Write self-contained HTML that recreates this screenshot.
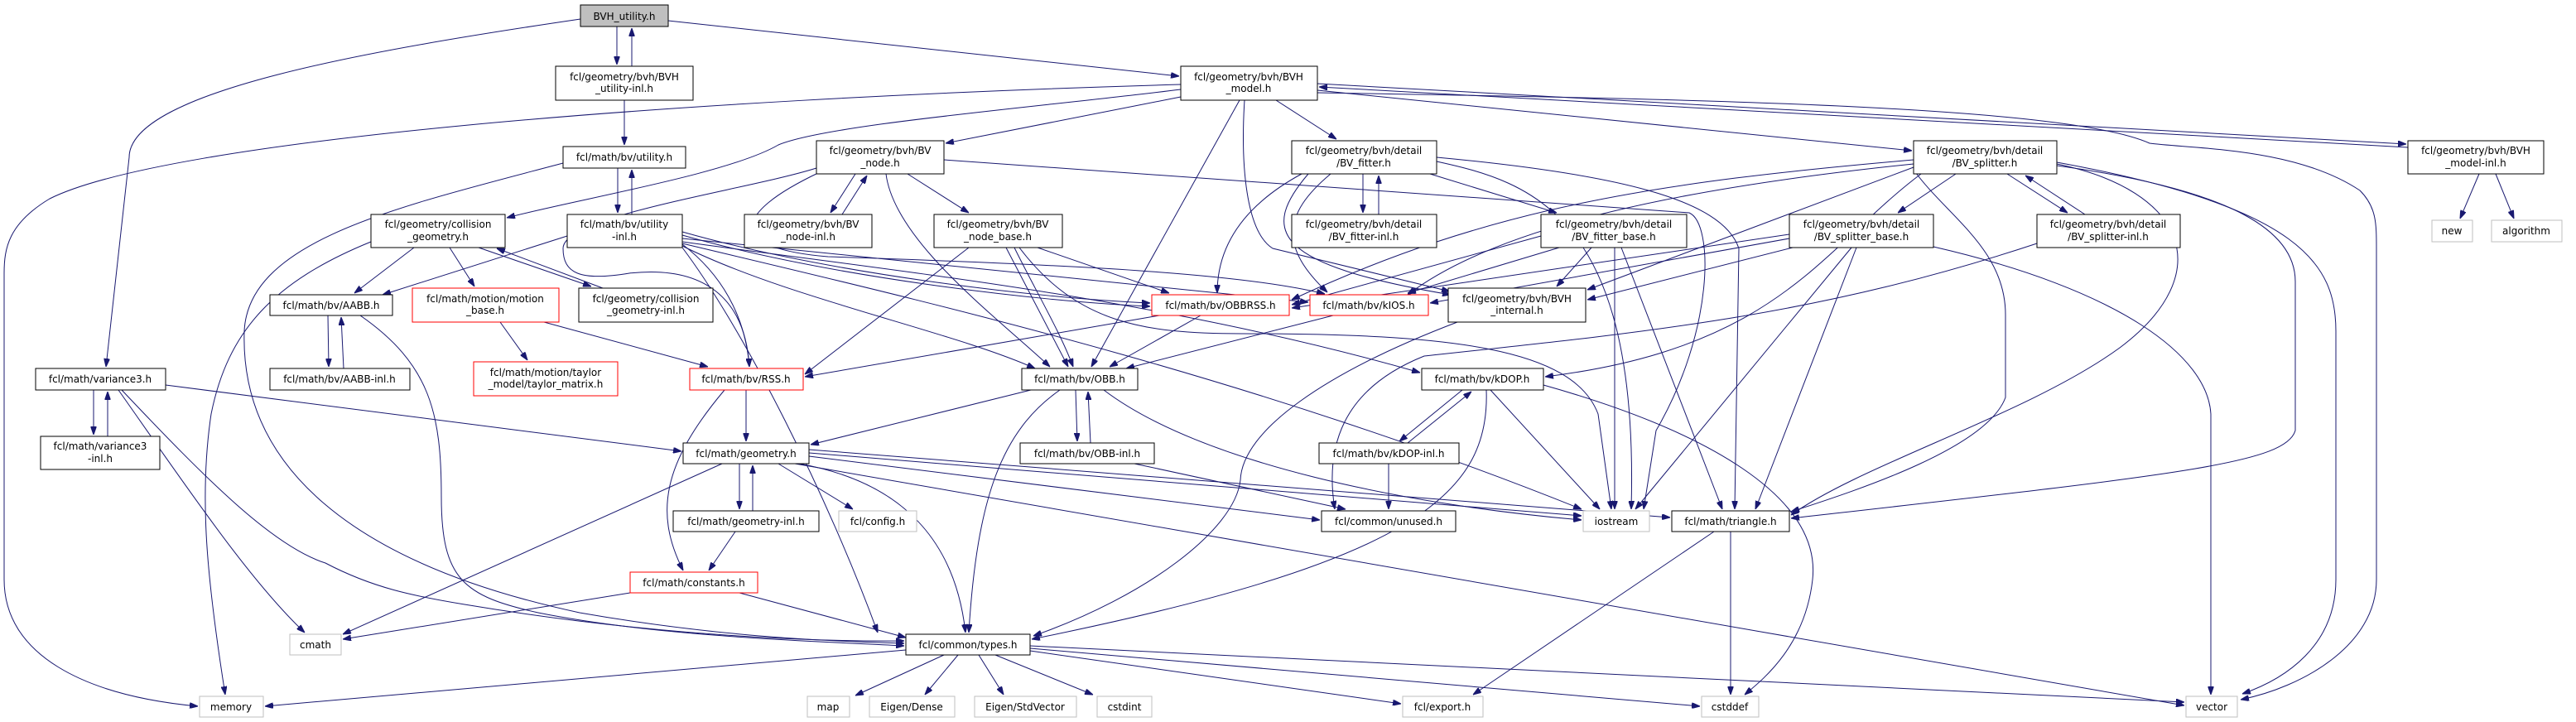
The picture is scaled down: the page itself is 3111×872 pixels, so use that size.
<!DOCTYPE html>
<html><head><meta charset="utf-8"><style>
html,body{margin:0;padding:0;background:#fff;}
svg{display:block;}
text{font-family:"DejaVu Sans","Liberation Sans",sans-serif;font-size:12px;fill:#000;text-anchor:middle;}
.e{fill:none;stroke:#191970;stroke-width:1;marker-end:url(#a);}
.n{fill:#fff;stroke:#000;stroke-width:1;}
.r{fill:#fff;stroke:#ff0000;stroke-width:1;}
.g{fill:#fff;stroke:#bfbfbf;stroke-width:1;}
</style></head><body>
<svg width="3111" height="872" viewBox="0 0 3111 872" xmlns="http://www.w3.org/2000/svg">
<defs><marker id="a" markerWidth="10" markerHeight="7" refX="10" refY="3.5" orient="auto" markerUnits="userSpaceOnUse"><path d="M0,0 L10,3.5 L0,7 z" fill="#191970" stroke="#191970"/></marker></defs>
<g>
<path class="e" d="M745,32 L745,78"/>
<path class="e" d="M763,80 L763,34"/>
<path class="e" d="M807,25 L1424,92"/>
<path class="e" d="M701,23 C450,60 156,110 156,190 L128,443"/>
<path class="e" d="M754,121 L754,175"/>
<path class="e" d="M746,203 L746,257"/>
<path class="e" d="M763,259 L763,205"/>
<path class="e" d="M680,197 C480,250 300,290 295,400 C290,560 420,680 700,740 C900,775 1050,775 1092,777"/>
<path class="e" d="M1426,102 C800,120 200,170 60,240 C10,270 5,300 5,330 L5,700 C5,790 100,840 239,853"/>
<path class="e" d="M1426,108 C1250,130 1000,150 940,175 C880,210 700,240 612,263"/>
<path class="e" d="M1426,117 L1142,173"/>
<path class="e" d="M1497,121 L1318,443"/>
<path class="e" d="M1503,121 C1498,200 1505,280 1537,300 L1751,352"/>
<path class="e" d="M1541,121 L1614,168"/>
<path class="e" d="M1591,109 L2309,182"/>
<path class="e" d="M1591,101 L2906,174"/>
<path class="e" d="M2908,178 L1593,105"/>
<path class="e" d="M1591,112 C2100,120 2500,130 2596,173 C2650,180 2772,178 2850,230 C2870,250 2870,270 2870,300 L2870,700 C2870,780 2780,830 2706,845"/>
<path class="e" d="M1033,210 L1003,257"/>
<path class="e" d="M1017,259 L1047,212"/>
<path class="e" d="M1096,210 L1170,257"/>
<path class="e" d="M1070,210 C1080,290 1200,380 1268,443"/>
<path class="e" d="M986,203 C900,230 680,260 680,300 C680,330 700,340 760,330 C850,320 900,360 905,443"/>
<path class="e" d="M990,208 C880,260 880,300 1000,310 C1300,320 1500,330 1600,355"/>
<path class="e" d="M1140,193 L2040,257 C2070,270 2070,400 2000,520 L1985,615"/>
<path class="e" d="M685,285 L462,356"/>
<path class="e" d="M824,280 C1000,330 1250,360 1389,366"/>
<path class="e" d="M824,284 C1000,334 1250,364 1389,370"/>
<path class="e" d="M824,295 C870,330 900,380 905,443"/>
<path class="e" d="M824,297 C950,360 1150,400 1250,445"/>
<path class="e" d="M824,288 L1580,365"/>
<path class="e" d="M824,292 C1100,330 1400,360 1715,450"/>
<path class="e" d="M824,294 C1100,360 1500,450 1910,615"/>
<path class="e" d="M824,299 C900,400 1000,600 1060,764"/>
<path class="e" d="M500,299 L428,354"/>
<path class="e" d="M543,299 L573,346"/>
<path class="e" d="M578,299 L714,346"/>
<path class="e" d="M728,348 L600,300"/>
<path class="e" d="M448,292 C330,340 275,400 255,500 C240,600 250,700 272,839"/>
<path class="e" d="M396,381 L397,443"/>
<path class="e" d="M415,445 L412,383"/>
<path class="e" d="M435,381 C520,440 533,500 533,600 C533,700 560,720 650,740 C800,770 1000,775 1092,780"/>
<path class="e" d="M604,389 L637,435"/>
<path class="e" d="M657,389 L855,443"/>
<path class="e" d="M113,471 L113,525"/>
<path class="e" d="M130,527 L130,473"/>
<path class="e" d="M200,465 L823,545"/>
<path class="e" d="M143,471 C220,580 300,700 368,764"/>
<path class="e" d="M147,471 C250,580 330,660 393,680 C450,710 500,720 561,730 C800,770 1000,775 1092,774"/>
<path class="e" d="M901,471 L901,533"/>
<path class="e" d="M875,471 C800,560 790,620 825,689"/>
<path class="e" d="M893,560 L893,615"/>
<path class="e" d="M909,617 L909,562"/>
<path class="e" d="M940,560 L1030,615"/>
<path class="e" d="M872,560 L414,766"/>
<path class="e" d="M965,560 C1050,575 1150,620 1166,764"/>
<path class="e" d="M977,543 L2017,625"/>
<path class="e" d="M977,547 L1910,623"/>
<path class="e" d="M977,551 L1594,628"/>
<path class="e" d="M960,560 L2638,852"/>
<path class="e" d="M888,642 L856,689"/>
<path class="e" d="M761,716 L414,772"/>
<path class="e" d="M893,716 L1094,770"/>
<path class="e" d="M1245,471 L979,537"/>
<path class="e" d="M1299,471 L1301,533"/>
<path class="e" d="M1317,535 L1314,473"/>
<path class="e" d="M1280,471 C1210,520 1180,600 1170,764"/>
<path class="e" d="M1333,471 C1450,560 1700,610 1910,628"/>
<path class="e" d="M1370,560 L1625,615"/>
<path class="e" d="M1766,471 L1690,533"/>
<path class="e" d="M1700,535 L1777,473"/>
<path class="e" d="M1800,471 L1932,615"/>
<path class="e" d="M1795,471 C1800,600 1700,680 1246,772"/>
<path class="e" d="M1864,465 C2060,520 2200,600 2189,700 C2180,780 2130,820 2107,839"/>
<path class="e" d="M1677,560 L1677,615"/>
<path class="e" d="M2070,642 L1779,839"/>
<path class="e" d="M2090,642 L2090,839"/>
<path class="e" d="M1094,785 L320,853"/>
<path class="e" d="M1140,791 L1033,840"/>
<path class="e" d="M1157,791 L1117,839"/>
<path class="e" d="M1182,791 L1212,839"/>
<path class="e" d="M1202,791 L1320,839"/>
<path class="e" d="M1244,786 L1692,850"/>
<path class="e" d="M1244,783 L2053,853"/>
<path class="e" d="M1244,780 L2638,848"/>
<path class="e" d="M1760,389 C1600,450 1500,520 1498,580 C1491,640 1385,720 1248,768"/>
<path class="e" d="M1400,381 L972,455"/>
<path class="e" d="M1450,381 L1340,443"/>
<path class="e" d="M1610,381 L1360,445"/>
<path class="e" d="M1170,299 L972,452"/>
<path class="e" d="M1215,299 L1290,443"/>
<path class="e" d="M1225,299 C1250,350 1280,400 1296,443"/>
<path class="e" d="M1253,299 L1412,354"/>
<path class="e" d="M1231,299 C1300,390 1380,403 1500,403 C1750,403 1900,420 1930,500 L1946,615"/>
<path class="e" d="M1646,210 L1646,257"/>
<path class="e" d="M1665,259 L1665,212"/>
<path class="e" d="M1727,210 L1880,257"/>
<path class="e" d="M1572,210 C1480,260 1470,320 1470,354"/>
<path class="e" d="M1607,210 C1547,260 1547,300 1603,353"/>
<path class="e" d="M1580,210 C1520,280 1540,320 1752,356"/>
<path class="e" d="M1735,190 C1950,210 2080,240 2100,300 L2095,615"/>
<path class="e" d="M1735,195 C1850,220 1980,260 1970,615"/>
<path class="e" d="M1861,285 L1560,368"/>
<path class="e" d="M1883,299 L1700,354"/>
<path class="e" d="M1922,299 L1880,346"/>
<path class="e" d="M1950,299 L1950,615"/>
<path class="e" d="M1958,299 L2080,615"/>
<path class="e" d="M2362,210 L2292,257"/>
<path class="e" d="M2424,210 L2497,257"/>
<path class="e" d="M2518,259 L2446,212"/>
<path class="e" d="M2311,193 C2000,220 1800,250 1560,362"/>
<path class="e" d="M2311,198 C2000,230 1800,280 1700,356"/>
<path class="e" d="M2311,202 L1917,350"/>
<path class="e" d="M2320,210 C2200,300 2150,420 1866,455"/>
<path class="e" d="M2484,198 C2640,230 2680,330 2560,420 C2450,500 2250,560 2163,622"/>
<path class="e" d="M2484,200 C2700,230 2772,280 2772,340 L2772,520 C2760,560 2631,573 2163,626"/>
<path class="e" d="M2484,196 C2780,250 2821,320 2821,400 L2821,700 C2821,780 2760,820 2708,838"/>
<path class="e" d="M2311,205 C2350,260 2422,300 2422,380 L2422,480 C2400,540 2250,590 2163,618"/>
<path class="e" d="M2161,283 L1560,372"/>
<path class="e" d="M2161,288 L1727,366"/>
<path class="e" d="M2165,299 L1917,362"/>
<path class="e" d="M2236,299 L1975,615"/>
<path class="e" d="M2242,299 L2120,615"/>
<path class="e" d="M2335,298 C2561,350 2666,430 2670,500 L2670,839"/>
<path class="e" d="M2460,294 C2200,380 2000,400 1720,430 C1620,470 1600,540 1612,615"/>
<path class="e" d="M2994,210 L2971,264"/>
<path class="e" d="M3014,210 L3036,264"/>
</g>
<g>
<rect x="701" y="6" width="106" height="26" fill="#bfbfbf" stroke="#000"/><text x="754" y="24">BVH_utility.h</text>
<rect class="n" x="671" y="80" width="166" height="41"/><text x="754" y="97">fcl/geometry/bvh/BVH</text><text x="754" y="111">_utility-inl.h</text>
<rect class="n" x="1426" y="80" width="165" height="41"/><text x="1508" y="97">fcl/geometry/bvh/BVH</text><text x="1508" y="111">_model.h</text>
<rect class="n" x="680" y="177" width="148" height="26"/><text x="754" y="194">fcl/math/bv/utility.h</text>
<rect class="n" x="986" y="170" width="154" height="40"/><text x="1063" y="186">fcl/geometry/bvh/BV</text><text x="1063" y="201">_node.h</text>
<rect class="n" x="1560" y="170" width="175" height="40"/><text x="1647" y="186">fcl/geometry/bvh/detail</text><text x="1647" y="201">/BV_fitter.h</text>
<rect class="n" x="2311" y="170" width="173" height="40"/><text x="2397" y="186">fcl/geometry/bvh/detail</text><text x="2397" y="201">/BV_splitter.h</text>
<rect class="n" x="2908" y="170" width="164" height="40"/><text x="2990" y="186">fcl/geometry/bvh/BVH</text><text x="2990" y="201">_model-inl.h</text>
<rect class="n" x="448" y="259" width="162" height="40"/><text x="529" y="275">fcl/geometry/collision</text><text x="529" y="290">_geometry.h</text>
<rect class="n" x="685" y="259" width="139" height="40"/><text x="754" y="275">fcl/math/bv/utility</text><text x="754" y="290">-inl.h</text>
<rect class="n" x="899" y="259" width="154" height="40"/><text x="976" y="275">fcl/geometry/bvh/BV</text><text x="976" y="290">_node-inl.h</text>
<rect class="n" x="1128" y="259" width="155" height="40"/><text x="1205" y="275">fcl/geometry/bvh/BV</text><text x="1205" y="290">_node_base.h</text>
<rect class="n" x="1560" y="259" width="175" height="40"/><text x="1647" y="275">fcl/geometry/bvh/detail</text><text x="1647" y="290">/BV_fitter-inl.h</text>
<rect class="n" x="1861" y="259" width="176" height="40"/><text x="1949" y="275">fcl/geometry/bvh/detail</text><text x="1949" y="290">/BV_fitter_base.h</text>
<rect class="n" x="2161" y="259" width="174" height="40"/><text x="2248" y="275">fcl/geometry/bvh/detail</text><text x="2248" y="290">/BV_splitter_base.h</text>
<rect class="n" x="2460" y="259" width="173" height="40"/><text x="2546" y="275">fcl/geometry/bvh/detail</text><text x="2546" y="290">/BV_splitter-inl.h</text>
<rect class="g" x="2937" y="266" width="49" height="26"/><text x="2961" y="283">new</text>
<rect class="g" x="3009" y="266" width="85" height="26"/><text x="3051" y="283">algorithm</text>
<rect class="n" x="326" y="356" width="148" height="25"/><text x="400" y="373">fcl/math/bv/AABB.h</text>
<rect class="r" x="498" y="348" width="177" height="41"/><text x="586" y="365">fcl/math/motion/motion</text><text x="586" y="379">_base.h</text>
<rect class="n" x="699" y="348" width="162" height="41"/><text x="780" y="365">fcl/geometry/collision</text><text x="780" y="379">_geometry-inl.h</text>
<rect class="r" x="1391" y="356" width="166" height="25"/><text x="1474" y="373">fcl/math/bv/OBBRSS.h</text>
<rect class="r" x="1582" y="356" width="143" height="25"/><text x="1653" y="373">fcl/math/bv/kIOS.h</text>
<rect class="n" x="1749" y="348" width="166" height="41"/><text x="1832" y="365">fcl/geometry/bvh/BVH</text><text x="1832" y="379">_internal.h</text>
<rect class="n" x="43" y="445" width="157" height="26"/><text x="121" y="462">fcl/math/variance3.h</text>
<rect class="n" x="326" y="445" width="169" height="26"/><text x="410" y="462">fcl/math/bv/AABB-inl.h</text>
<rect class="r" x="572" y="437" width="174" height="41"/><text x="659" y="454">fcl/math/motion/taylor</text><text x="659" y="468">_model/taylor_matrix.h</text>
<rect class="r" x="833" y="445" width="137" height="26"/><text x="901" y="462">fcl/math/bv/RSS.h</text>
<rect class="n" x="1234" y="445" width="140" height="26"/><text x="1304" y="462">fcl/math/bv/OBB.h</text>
<rect class="n" x="1717" y="445" width="147" height="26"/><text x="1790" y="462">fcl/math/bv/kDOP.h</text>
<rect class="n" x="49" y="527" width="144" height="40"/><text x="121" y="543">fcl/math/variance3</text><text x="121" y="558">-inl.h</text>
<rect class="n" x="825" y="535" width="152" height="25"/><text x="901" y="552">fcl/math/geometry.h</text>
<rect class="n" x="1232" y="535" width="162" height="25"/><text x="1313" y="552">fcl/math/bv/OBB-inl.h</text>
<rect class="n" x="1593" y="535" width="169" height="25"/><text x="1677" y="552">fcl/math/bv/kDOP-inl.h</text>
<rect class="n" x="813" y="617" width="176" height="25"/><text x="901" y="634">fcl/math/geometry-inl.h</text>
<rect class="g" x="1013" y="617" width="94" height="25"/><text x="1060" y="634">fcl/config.h</text>
<rect class="n" x="1596" y="617" width="162" height="25"/><text x="1677" y="634">fcl/common/unused.h</text>
<rect class="g" x="1912" y="617" width="80" height="25"/><text x="1952" y="634">iostream</text>
<rect class="n" x="2019" y="617" width="142" height="25"/><text x="2090" y="634">fcl/math/triangle.h</text>
<rect class="r" x="761" y="691" width="154" height="25"/><text x="838" y="708">fcl/math/constants.h</text>
<rect class="g" x="350" y="766" width="62" height="25"/><text x="381" y="783">cmath</text>
<rect class="n" x="1094" y="766" width="150" height="25"/><text x="1169" y="783">fcl/common/types.h</text>
<rect class="g" x="241" y="841" width="77" height="25"/><text x="279" y="858">memory</text>
<rect class="g" x="975" y="841" width="51" height="25"/><text x="1000" y="858">map</text>
<rect class="g" x="1050" y="841" width="103" height="25"/><text x="1101" y="858">Eigen/Dense</text>
<rect class="g" x="1177" y="841" width="123" height="25"/><text x="1238" y="858">Eigen/StdVector</text>
<rect class="g" x="1325" y="841" width="66" height="25"/><text x="1358" y="858">cstdint</text>
<rect class="g" x="1694" y="841" width="97" height="25"/><text x="1742" y="858">fcl/export.h</text>
<rect class="g" x="2055" y="841" width="69" height="25"/><text x="2089" y="858">cstddef</text>
<rect class="g" x="2640" y="841" width="62" height="25"/><text x="2671" y="858">vector</text>
</g>
</svg>
</body></html>
